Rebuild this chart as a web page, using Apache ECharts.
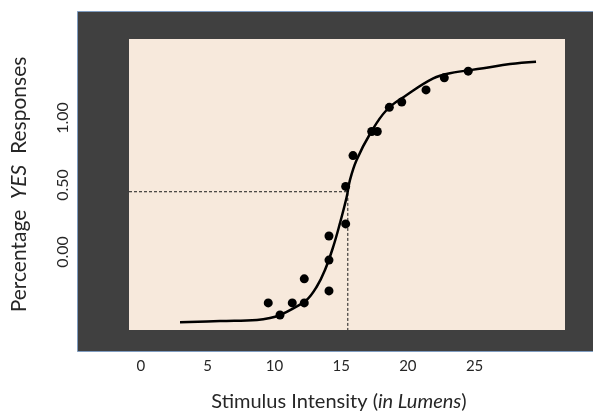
<!DOCTYPE html>
<html>
<head>
<meta charset="utf-8">
<script src="https://cdn.jsdelivr.net/npm/echarts@6/dist/echarts.min.js"></script>
<style>
  html, body { margin: 0; padding: 0; background: #ffffff; }
  #chart { width: 593px; height: 413px; }
</style>
</head>
<body>
<div id="chart"></div>
<script>
// Tick values and labels
var xTickValues = [0, 5, 10, 15, 20, 25];
var xTickLabels = ['0', '5', '10', '15', '20', '25'];
var yTickValues = [0, 0.5, 1];
var yTickLabels = ['0.00', '0.50', '1.00'];

// Observed responses (scatter dots)
var dotX = [9.54, 10.42, 11.34, 12.24, 12.24, 14.09, 14.09, 14.09, 15.34, 15.34, 15.89, 17.29, 17.71, 18.61, 19.54, 21.36, 22.73, 24.52];
var dotY = [-0.38, -0.47, -0.38, -0.38, -0.20, -0.29, -0.06, 0.12, 0.21, 0.49, 0.72, 0.90, 0.90, 1.08, 1.12, 1.21, 1.30, 1.35];

// Fitted psychometric curve
var curveX = [2.93, 5.93, 8.70, 9.67, 10.42, 11.42, 12.42, 13.17, 13.79, 14.41, 14.91, 15.42, 15.66, 16.16, 17.16, 18.41, 19.91, 21.90, 23.15, 25.65, 27.65, 29.60];
var curveY = [-0.525, -0.515, -0.507, -0.493, -0.470, -0.420, -0.358, -0.259, -0.134, 0.040, 0.214, 0.413, 0.537, 0.687, 0.881, 1.060, 1.172, 1.296, 1.334, 1.371, 1.403, 1.420];

// Threshold guide (dashed)
var thresholdX = 15.5;
var thresholdY = 0.45;

var xMin = -0.89, xMax = 31.77;
var yMin = -0.582, yMax = 1.59;

function zip(a, b) { return a.map(function (v, i) { return [v, b[i]]; }); }

var chart = echarts.init(document.getElementById('chart'), null, { renderer: 'canvas' });
var FONT = 'Lato';
var TXT = '#262626';

chart.setOption({
  animation: false,
  backgroundColor: '#ffffff',
  graphic: [{
    type: 'rect',
    z: -10,
    shape: { x: 77.5, y: 11.5, width: 520, height: 340 },
    style: { fill: '#404040', stroke: '#7f9cc0', lineWidth: 1 }
  }],
  grid: {
    show: true,
    left: 129, top: 39, width: 436, height: 291,
    containLabel: false,
    outerBoundsMode: 'none',
    backgroundColor: '#f7e9dc',
    borderWidth: 0
  },
  xAxis: {
    type: 'value', min: xMin, max: xMax,
    axisLine: { show: false }, axisTick: { show: false }, splitLine: { show: false },
    axisLabel: {
      customValues: xTickValues,
      formatter: function (v) { var i = xTickValues.indexOf(v); return i >= 0 ? xTickLabels[i] : ''; },
      margin: 29, color: TXT, fontFamily: FONT, fontSize: 15
    },
    name: '{n|Stimulus Intensity (}{i|in Lumens}{n|)}',
    nameLocation: 'middle', nameGap: 62,
    nameTextStyle: {
      padding: [0, 16, 0, 0],
      rich: {
        n: { fontFamily: FONT, fontSize: 20, color: TXT },
        i: { fontFamily: FONT, fontSize: 20, color: TXT, fontStyle: 'italic' }
      }
    }
  },
  yAxis: {
    type: 'value', min: yMin, max: yMax,
    axisLine: { show: false }, axisTick: { show: false }, splitLine: { show: false },
    axisLabel: {
      customValues: yTickValues,
      formatter: function (v) { var i = yTickValues.indexOf(v); return i >= 0 ? yTickLabels[i] : ''; },
      rotate: 90, margin: 58, color: TXT, fontFamily: FONT, fontSize: 16
    },
    name: '{n|Percentage  }{i|YES}{n|  Responses}',
    nameLocation: 'middle', nameGap: 99, nameRotate: 90,
    nameTextStyle: {
      rich: {
        n: { fontFamily: FONT, fontSize: 21, color: TXT },
        i: { fontFamily: FONT, fontSize: 21, color: TXT, fontStyle: 'italic' }
      }
    }
  },
  series: [
    {
      type: 'line',
      data: [[xMin, thresholdY], [thresholdX, thresholdY], [thresholdX, yMin]],
      symbol: 'none',
      lineStyle: { color: '#1a1a1a', width: 1, type: [3, 2] },
      z: 1
    },
    {
      type: 'line',
      data: zip(curveX, curveY),
      smooth: 0.4,
      symbol: 'none',
      lineStyle: { color: '#000000', width: 2.5 },
      z: 2
    },
    {
      type: 'scatter',
      data: zip(dotX, dotY),
      symbolSize: 9,
      itemStyle: { color: '#000000', opacity: 1 },
      z: 3
    }
  ]
});
</script>
</body>
</html>
